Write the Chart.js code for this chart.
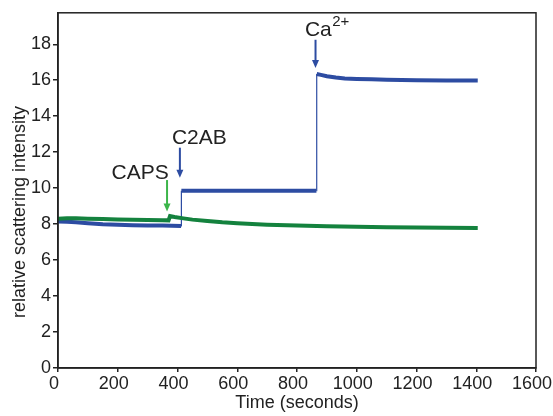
<!DOCTYPE html>
<html>
<head>
<meta charset="utf-8">
<script src="https://cdn.jsdelivr.net/npm/chart.js@4/dist/chart.umd.min.js"></script>
<style>
html,body{margin:0;padding:0;background:#fff;}
#wrap{width:553px;height:416px;position:relative;}
</style>
</head>
<body>
<div id="wrap"><canvas id="c" width="553" height="416"></canvas></div>
<script>
// ---- data ----
const blueTime  = [0, 30, 60, 100, 150, 200, 250, 300, 350, 412, 413, 450, 500, 600, 700, 800, 865, 866, 880, 900, 930, 960, 1000, 1050, 1100, 1200, 1300, 1405];
const blueValue = [8.15, 8.13, 8.1, 8.05, 7.99, 7.96, 7.94, 7.93, 7.92, 7.9, 9.85, 9.86, 9.86, 9.85, 9.85, 9.85, 9.86, 16.35, 16.3, 16.22, 16.15, 16.1, 16.07, 16.05, 16.03, 16.0, 15.99, 15.98];
const greenTime  = [0, 30, 60, 100, 150, 200, 250, 300, 350, 370, 375, 390, 420, 450, 500, 550, 600, 700, 800, 900, 1000, 1100, 1200, 1300, 1405];
const greenValue = [8.3, 8.33, 8.32, 8.3, 8.28, 8.26, 8.25, 8.23, 8.22, 8.21, 8.45, 8.4, 8.32, 8.25, 8.17, 8.1, 8.05, 7.97, 7.92, 7.88, 7.85, 7.83, 7.81, 7.8, 7.79];
const xTicks = [0, 200, 400, 600, 800, 1000, 1200, 1400, 1600];
const yTicks = [0, 2, 4, 6, 8, 10, 12, 14, 16, 18];
const xTitle = 'Time (seconds)';
const yTitle = 'relative scattering intensity';
// annotations: label, arrow time, arrow top value, arrow tip value, label time, label value
const annLabels = ['CAPS', 'C2AB', 'Ca'];
const annSup = ['', '', '2+'];
const annArrowTime = [365, 408, 862];
const annArrowTop = [10.45, 12.25, 18.25];
const annArrowTip = [8.7, 10.58, 16.68];
const annTextTime = [275, 473, 900];
const annTextValue = [10.85, 12.75, 18.8];

const BLUE = '#2d4ca2';
const GREEN = '#14823e';
const LIGHTGREEN = '#3cb54a';
const annColors = [LIGHTGREEN, BLUE, BLUE];

const toPts = (xs, ys) => xs.map((x, i) => ({x: x, y: ys[i]}));
const FONT = "Arial, 'Liberation Sans', sans-serif";

const thinJump = ctx => Math.abs(ctx.p1.parsed.y - ctx.p0.parsed.y) > 1 ? 1.2 : undefined;

const framePlugin = {
  id: 'frame',
  afterDraw(chart) {
    const {ctx, chartArea: a, scales: {x, y}} = chart;
    ctx.save();
    ctx.strokeStyle = '#222';
    ctx.lineWidth = 1.5;
    ctx.strokeRect(a.left, a.top, a.right - a.left, a.bottom - a.top);
    // y axis title (drawn here so it can sit slightly below centre, as in the reference)
    ctx.save();
    ctx.translate(20, 212);
    ctx.rotate(-Math.PI / 2);
    ctx.fillStyle = '#222';
    ctx.font = '18px ' + FONT;
    ctx.textAlign = 'center';
    ctx.textBaseline = 'middle';
    ctx.fillText(yTitle, 0, 0);
    ctx.restore();
    // annotations
    for (let i = 0; i < annLabels.length; i++) {
      const ax = x.getPixelForValue(annArrowTime[i]);
      const y0 = y.getPixelForValue(annArrowTop[i]);
      const y1 = y.getPixelForValue(annArrowTip[i]);
      ctx.strokeStyle = annColors[i];
      ctx.fillStyle = annColors[i];
      ctx.lineWidth = 2;
      ctx.beginPath();
      ctx.moveTo(ax, y0);
      ctx.lineTo(ax, y1 - 6);
      ctx.stroke();
      ctx.beginPath();
      ctx.moveTo(ax - 3.5, y1 - 8);
      ctx.lineTo(ax + 3.5, y1 - 8);
      ctx.lineTo(ax, y1);
      ctx.closePath();
      ctx.fill();
      const tx = x.getPixelForValue(annTextTime[i]);
      const ty = y.getPixelForValue(annTextValue[i]);
      ctx.fillStyle = '#222';
      ctx.textBaseline = 'middle';
      if (annSup[i]) {
        ctx.textAlign = 'left';
        ctx.font = '15px ' + FONT;
        const supW = ctx.measureText(annSup[i]).width;
        ctx.font = '21px ' + FONT;
        const w = ctx.measureText(annLabels[i]).width;
        const start = tx - (w + supW) / 2;
        ctx.fillText(annLabels[i], start, ty);
        ctx.font = '15px ' + FONT;
        ctx.fillText(annSup[i], start + w + 0.5, ty - 8);
      } else {
        ctx.font = '21px ' + FONT;
        ctx.textAlign = 'center';
        ctx.fillText(annLabels[i], tx, ty);
      }
    }
    ctx.restore();
  }
};

new Chart(document.getElementById('c'), {
  type: 'scatter',
  data: {
    datasets: [
      {
        label: 'green',
        data: toPts(greenTime, greenValue),
        showLine: true,
        borderColor: GREEN,
        backgroundColor: GREEN,
        borderWidth: 4,
        pointRadius: 0,
        segment: {borderWidth: thinJump}
      },
      {
        label: 'blue',
        data: toPts(blueTime, blueValue),
        showLine: true,
        borderColor: BLUE,
        backgroundColor: BLUE,
        borderWidth: 4,
        pointRadius: 0,
        segment: {borderWidth: thinJump}
      }
    ]
  },
  options: {
    responsive: false,
    animation: false,
    layout: {padding: {top: 10, right: 0, left: 0, bottom: 0}},
    plugins: {legend: {display: false}, tooltip: {enabled: false}},
    scales: {
      x: {
        type: 'linear',
        min: 0, max: 1600,
        afterBuildTicks: s => { s.ticks = xTicks.map(v => ({value: v})); },
        afterFit: s => { s.height = 48; s.paddingRight = 17; s.paddingLeft = 0; },
        grid: {drawOnChartArea: false, drawTicks: true, tickLength: 4, color: '#222', lineWidth: 1.5},
        border: {display: true, color: '#222', width: 1.5},
        ticks: {color: '#222', font: {family: FONT, size: 18}, padding: 1, maxRotation: 0, autoSkip: false, labelOffset: -4,
                callback: v => String(v)},
        title: {display: true, text: xTitle, color: '#222', font: {family: FONT, size: 18}, padding: {top: 0, bottom: 2}}
      },
      y: {
        type: 'linear',
        min: 0, max: 19.75,
        afterBuildTicks: s => { s.ticks = yTicks.map(v => ({value: v})); },
        afterFit: s => { s.width = 58; },
        grid: {drawOnChartArea: false, drawTicks: true, tickLength: 5, color: '#222', lineWidth: 1.5},
        border: {display: true, color: '#222', width: 1.5},
        ticks: {color: '#222', font: {family: FONT, size: 18}, padding: 2, autoSkip: false, callback: v => String(v)},
        title: {display: false}
      }
    }
  },
  plugins: [framePlugin]
});
</script>
</body>
</html>
